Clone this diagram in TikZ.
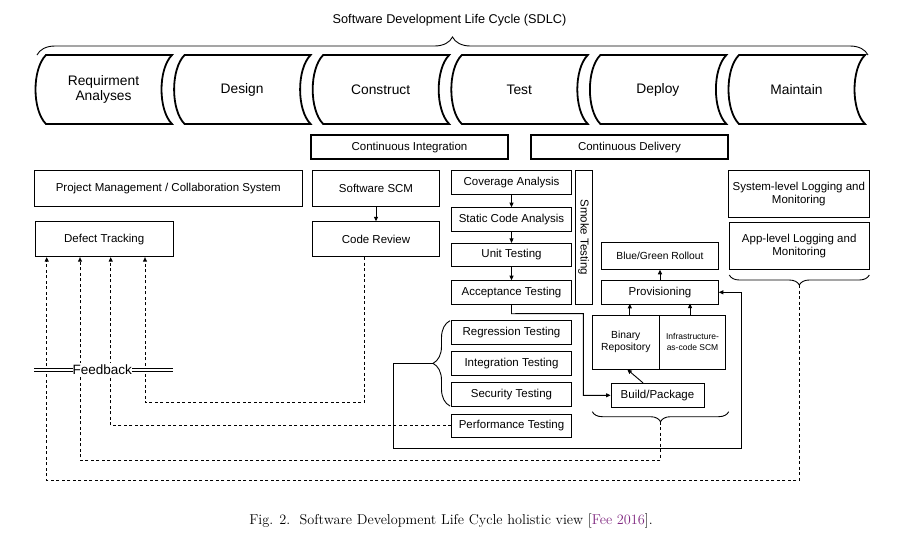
\documentclass[tikz,border=0pt]{standalone}
\usepackage{fontspec}
\setsansfont{Liberation Sans}
\usetikzlibrary{arrows.meta}
\usetikzlibrary{decorations.pathreplacing}
\definecolor{citecol}{RGB}{128,40,128}

\begin{document}
\begin{tikzpicture}[x=1pt,y=-1pt,
  box/.style={draw,line width=0.9pt,inner sep=1pt,align=center,font=\sffamily\fontsize{11.5}{13.4}\selectfont},
  thickbox/.style={box,line width=2pt},
  small/.style={font=\sffamily\fontsize{10.3}{11.7}\selectfont},
  tiny/.style={font=\sffamily\fontsize{8.5}{10.7}\selectfont},
  stage/.style={line width=1.8pt},
  arr/.style={line width=0.9pt,-{Triangle[length=4.5pt,width=4pt]}},
  fb/.style={line width=0.9pt,dash pattern=on 3pt off 2.5pt},
  brc/.style={decorate,decoration={brace,amplitude=#1},line width=0.9pt}]
\useasboundingbox (0,0) rectangle (924,552);

% life cycle
\node[font=\sffamily\fontsize{12.7}{14}\selectfont] (title) at (449.5,20) {Software Development Life Cycle (SDLC)};
\draw[brc=18pt] (37,55) -- (868,55);
\foreach \lbl [count=\i from 0] in {{Requirment\\Analyses},Design,Construct,Test,Deploy,Maintain}{
  \pgfmathsetmacro\L{35+138.6*\i}
  \draw[stage] (\L+11,55) -- (\L+137,55) .. controls (\L+123,69) and (\L+123,110) .. (\L+137,124)
    -- (\L+11,124) .. controls (\L-3,110) and (\L-3,69) .. (\L+11,55) -- cycle;
  \node[align=center,font=\sffamily\fontsize{13.8}{15}\selectfont] (stage\i) at (\L+68.5,89.5) {\lbl};
}

\node[thickbox,minimum width=197.6pt,minimum height=24.3pt] (ci) at (409.5,147.2) {Continuous Integration};
\node[thickbox,minimum width=197.6pt,minimum height=24.3pt] (cd) at (629.5,147.2) {Continuous Delivery};

% left column
\node[box,minimum width=268.7pt,minimum height=35.3pt] (pm) at (168.3,188.3) {Project Management / Collaboration System};
\node[box,minimum width=138.3pt,minimum height=35pt] (defect) at (104.2,239.2) {Defect Tracking};
\node[box,minimum width=126.6pt,minimum height=35.3pt] (scm) at (376,188.3) {Software SCM};
\node[box,minimum width=126.6pt,minimum height=35pt] (review) at (376,239.2) {Code Review};
\draw[arr] (scm) -- (review);

% testing
\node[box,minimum width=119.5pt,minimum height=23.3pt] (coverage) at (511.5,182.3) {Coverage Analysis};
\node[box,minimum width=119.5pt,minimum height=23.3pt] (static) at (511.5,219.3) {Static Code Analysis};
\node[box,minimum width=119.5pt,minimum height=23.3pt] (unit) at (511.5,255) {Unit Testing};
\node[box,minimum width=119.5pt,minimum height=23.3pt] (accept) at (511.5,292.3) {Acceptance Testing};
\node[box,rotate=-90,minimum width=133.3pt,minimum height=17.3pt] (smoke) at (583.7,237.3) {Smoke Testing};
\draw[arr] (coverage) -- (static);
\draw[arr] (static) -- (unit);
\draw[arr] (unit) -- (accept);

\node[box,minimum width=119.5pt,minimum height=23.3pt] (regress) at (511.5,332.3) {Regression Testing};
\node[box,minimum width=119.5pt,minimum height=23.3pt] (integ) at (511.5,363.5) {Integration Testing};
\node[box,minimum width=119.5pt,minimum height=23.3pt] (secur) at (511.5,394.3) {Security Testing};
\node[box,minimum width=119.5pt,minimum height=23.3pt] (perf) at (511.5,425.7) {Performance Testing};

% delivery
\node[box,small,minimum width=116.6pt,minimum height=27pt] (bluegreen) at (660,255.8) {Blue/Green Rollout};
\node[box,minimum width=116.6pt,minimum height=23.3pt] (prov) at (660,292.3) {Provisioning};
\node[box,small,minimum width=67pt,minimum height=54pt] (binary) at (625.8,342) {Binary\\Repository};
\node[box,tiny,minimum width=66.4pt,minimum height=54pt] (infra) at (692.5,342) {Infrastructure-\\as-code SCM};
\node[box,minimum width=93pt,minimum height=24pt] (build) at (657.5,395.3) {Build/Package};
\draw[arr] (prov) -- (bluegreen);
\draw[arr] ([xshift=4pt]binary.north) -- ++(0,-10.7);
\draw[arr] ([xshift=-2.5pt]infra.north) -- ++(0,-11);
\draw[arr] ([xshift=-14.5pt]build.north) -- ([xshift=1.5pt]binary.south);
\draw[arr] (accept.south) -- ++(0,9.3) -- (583.3,313.6) |- (build.west);

% maintain
\node[box,minimum width=140.3pt,minimum height=46.6pt] (syslog) at (798.8,194) {System-level Logging and\\Monitoring};
\node[box,minimum width=139.7pt,minimum height=46.6pt] (applog) at (799.2,246) {App-level Logging and\\Monitoring};

% braces
\draw[brc=17pt] (450,406) -- (450,320.7);
\draw[brc=10pt] (728.7,411.7) -- (592.3,411.7);
\draw[brc=10pt] (869.3,275) -- (729.3,275);
\coordinate (regtip) at (433,363.3);
\coordinate (buildtip) at (660.5,421.7);
\coordinate (apptip) at (799.3,285);

% feedback loops
\draw[arr] (regtip) -- (393,363.3) |- (741,448) |- (prov.east);
\draw[fb,arr] ([xshift=-12pt]review.south) -- ++(0,145.6) -| ([xshift=40.8pt]defect.south);
\draw[fb,arr] (perf.west) -| ([xshift=6.5pt]defect.south);
\draw[fb,arr] (buildtip) -- ++(0,38.3) -| ([xshift=-24.2pt]defect.south);
\draw[fb,arr] (apptip) -- ++(0,195) -| ([xshift=-57.5pt]defect.south);
\draw[double,double distance=2pt,line width=0.7pt] (34,370) -- (172.7,370);
\node[fill=white,inner xsep=0pt,inner ysep=2pt,font=\sffamily\fontsize{13.5}{15}\selectfont] (feedback) at (102.3,370) {Feedback};

\node[font=\rmfamily\fontsize{14.3}{16}\selectfont] (caption) at (451,521) {Fig. 2.\ \ Software Development Life Cycle holistic view [\textcolor{citecol}{Fee 2016}].};
\end{tikzpicture}
\end{document}
